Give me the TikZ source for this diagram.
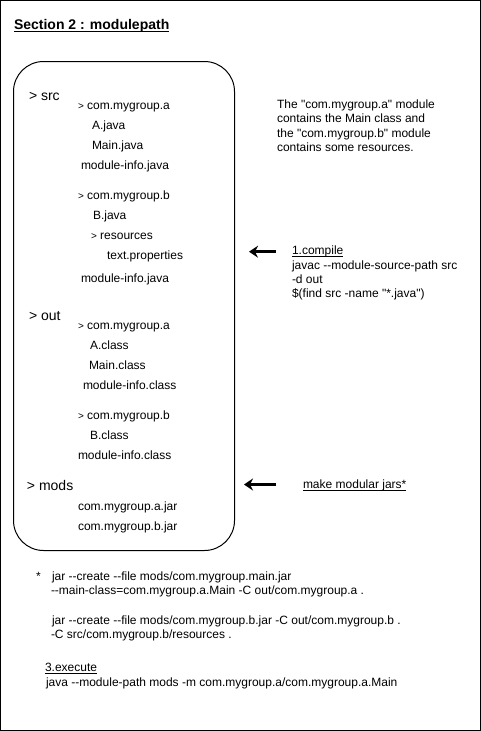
\documentclass[tikz,border=0pt]{standalone}
\usepackage{fontspec}
\setmainfont{Liberation Sans}[Ligatures=TeXOff]
\usetikzlibrary{arrows.meta}
\newcommand\ftw{\fontsize{12}{14.4}\selectfont}
\newcommand\ffo{\fontsize{14}{16.8}\selectfont}
\newcommand\sgt{{\fontsize{10}{12}\selectfont >}}
\newcommand\uln[1]{\setbox0\hbox{#1}\rlap{\vrule height -1.1pt depth 2.1pt width \wd0}\box0}
\newcommand\ulnb[1]{\setbox0\hbox{#1}\rlap{\vrule height -1.6pt depth 2.8pt width \wd0}\box0}
\tikzset{
  txt/.style={anchor=base west, inner sep=0pt, outer sep=0pt, font=\ftw},
  big/.style={anchor=base west, inner sep=0pt, outer sep=0pt, font=\ffo},
  arr/.style={line width=2.8pt, -{Stealth[length=9pt,width=12pt,inset=3pt]}},
}
\begin{document}
\begin{tikzpicture}[x=1pt,y=-1pt]
\useasboundingbox (0,0) rectangle (481,731);
\draw[line width=1pt] (0.5,0.5) rectangle (480.5,730.5);
% title
\node[big, font=\ffo\bfseries] (title) at (14,29.3) {\ulnb{Section 2 : modulepath}};
% tree box
\node[draw, line width=1pt, rounded corners=30pt, minimum width=221pt, minimum height=489pt,
      anchor=north west, inner sep=0pt] (box) at (13,61) {};
% src
\node[big] (src) at (29,100) {> src};
\node[txt] (sca) at (78,109.3) {\sgt{} com.mygroup.a};
\node[txt] (sajava) at (92,129.3) {A.java};
\node[txt] (smainjava) at (92,149.3) {Main.java};
\node[txt] (sminfoa) at (81,169.8) {module-info.java};
\node[txt] (scb) at (78,199.3) {\sgt{} com.mygroup.b};
\node[txt] (sbjava) at (93,219.3) {B.java};
\node[txt] (sres) at (91,239.3) {\sgt{} resources};
\node[txt] (stext) at (107,259.3) {text.properties};
\node[txt] (sminfob) at (81,282.3) {module-info.java};
% out
\node[big] (out) at (29,320) {> out};
\node[txt] (oca) at (78,329.3) {\sgt{} com.mygroup.a};
\node[txt] (oaclass) at (90,349.3) {A.class};
\node[txt] (omainclass) at (89,369.3) {Main.class};
\node[txt] (ominfoa) at (83,389.3) {module-info.class};
\node[txt] (ocb) at (78,419.3) {\sgt{} com.mygroup.b};
\node[txt] (obclass) at (90,439.3) {B.class};
\node[txt] (ominfob) at (78,459.3) {module-info.class};
% mods
\node[big] (mods) at (27,490) {> mods};
\node[txt] (ajar) at (78,510.3) {com.mygroup.a.jar};
\node[txt] (bjar) at (78,530.3) {com.mygroup.b.jar};
% description
\node[txt] (d1) at (277,108.3) {The "com.mygroup.a" module};
\node[txt] (d2) at (277,122.7) {contains the Main class and};
\node[txt] (d3) at (277,137.1) {the "com.mygroup.b" module};
\node[txt] (d4) at (277,151.5) {contains some resources.};
% compile
\node[txt] (c1) at (292,254.8) {\uln{1.compile}};
\node[txt] (c2) at (292,269.0) {javac --module-source-path src};
\node[txt] (c3) at (292,283.2) {-d out};
\node[txt] (c4) at (292,297.4) {\$(find src -name "*.java")};
\coordinate (a1s) at (276,251.7);
\coordinate (a1e) at (249,251.7);
\draw[arr] (a1s) -- (a1e);
% jars
\node[txt] (mj) at (303,488.5) {\uln{make modular jars*}};
\coordinate (a2s) at (276,484.5);
\coordinate (a2e) at (244,484.5);
\draw[arr] (a2s) -- (a2e);
% footnote
\node[txt] (star) at (36,580.3) {*};
\node[txt] (j1) at (52,580.3) {jar --create --file mods/com.mygroup.main.jar};
\node[txt] (j2) at (51,594.7) {--main-class=com.mygroup.a.Main -C out/com.mygroup.a .};
\node[txt] (j3) at (52,624.2) {jar --create --file mods/com.mygroup.b.jar -C out/com.mygroup.b .};
\node[txt] (j4) at (51,638.6) {-C src/com.mygroup.b/resources .};
\node[txt] (e1) at (45,671.5) {\uln{3.execute}};
\node[txt] (e2) at (46,686) {java --module-path mods -m com.mygroup.a/com.mygroup.a.Main};
\end{tikzpicture}
\end{document}
